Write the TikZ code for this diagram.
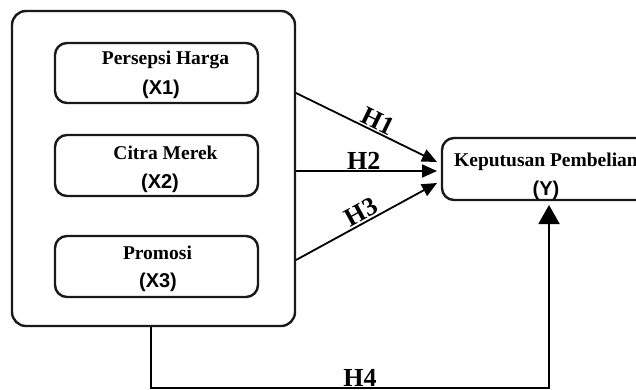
\documentclass[tikz,border=0pt]{standalone}
\usepackage{fontspec}
\setmainfont{Liberation Serif}
\newfontfamily\arialfont{Liberation Sans}
\usetikzlibrary{arrows.meta}
\begin{document}
\begin{tikzpicture}[x=1pt,y=-1pt,
  box/.style={draw=black!90,line width=2.4pt,rounded corners=12pt,inner sep=0pt},
  nm/.style={anchor=base,inner sep=0pt,font=\fontsize{19.5}{22}\selectfont\bfseries},
  cd/.style={anchor=base,inner sep=0pt,font=\fontsize{20}{22}\selectfont\arialfont\bfseries},
  hl/.style={inner sep=1pt,font=\fontsize{26}{28}\selectfont\bfseries},
  conn/.style={line width=1.8pt,-{Triangle[length=15pt,width=13pt]}}
]
\useasboundingbox (0,0) rectangle (636,389);
\fill[white] (0,0) rectangle (636,389);
% outer group box
\node[box,rounded corners=14pt,minimum width=283pt,minimum height=315pt] (outer) at (153.5,168.5) {};
% inner boxes
\node[box,minimum width=203pt,minimum height=60pt] (x1) at (156.5,73) {};
\node[box,minimum width=203pt,minimum height=61pt] (x2) at (156.5,165.5) {};
\node[box,minimum width=203pt,minimum height=61pt] (x3) at (156.5,266.5) {};
\node[nm] (x1n) at (165.5,64) {Persepsi Harga};
\node[cd] (x1c) at (161,94) {(X1)};
\node[nm] (x2n) at (165.5,159) {Citra Merek};
\node[cd] (x2c) at (160,188) {(X2)};
\node[nm] (x3n) at (157.5,259) {Promosi};
\node[cd] (x3c) at (158,287) {(X3)};
% dependent variable
\node[box,minimum width=208pt,minimum height=62pt] (y) at (546,169) {};
\node[nm] (yn) at (546,166) {Keputusan Pembelian};
\node[cd] (yc) at (546,195) {(Y)};
% connector ends
\coordinate (s1) at (296,93);
\coordinate (s2) at (296,171);
\coordinate (s3) at (296,260);
\coordinate (t1) at (437,162);
\coordinate (t2) at (437,171);
\coordinate (t3) at (437,183);
\coordinate (b1) at (151,388);
\coordinate (b2) at (549,388);
\coordinate (t4) at (549,205);
\draw[conn] (s1) -- node[hl,sloped,above,pos=0.55] (h1) {H1} (t1);
\draw[conn] (s2) -- node[hl,above,pos=0.48] (h2) {H2} (t2);
\draw[conn] (s3) -- node[hl,sloped,above,pos=0.5] (h3) {H3} (t3);
\draw[line width=2pt,-{Triangle[length=19pt,width=21pt]}] (outer.south -| b1) -- (b1) -- (b2) -- (t4);
\node[hl,anchor=base] (h4) at (360,386) {H4};
\end{tikzpicture}
\end{document}
